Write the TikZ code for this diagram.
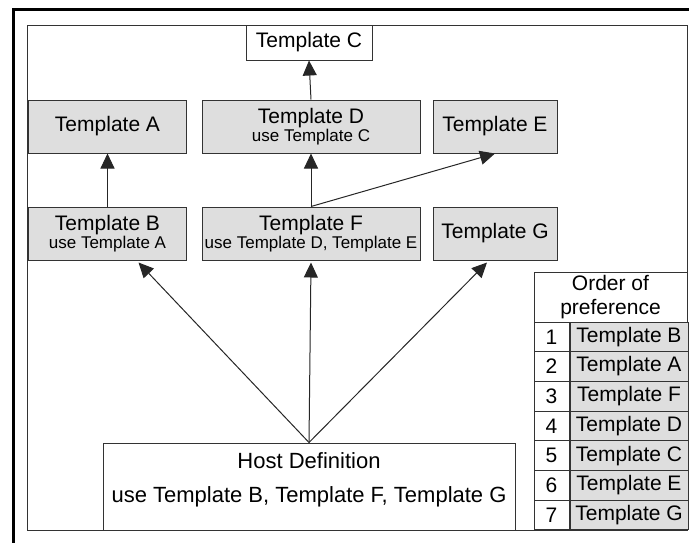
\documentclass[tikz,border=0pt]{standalone}
\usepackage{fontspec}
\setmainfont{Liberation Sans}
\usepackage{tikz}
\usetikzlibrary{arrows.meta}
\usetikzlibrary{positioning}
\tikzset{uses/.style = {-{Triangle[length=15pt, width=14pt]}, line width=1, black!85}}
\tikzset{tpl/.style = {draw=black!80, fill=tgray, line width=1, minimum height=53, inner sep=0, align=center}}
\tikzset{cell/.style = {draw=black!80, line width=1, minimum height=29.71, inner sep=0}}
\definecolor{tgray}{gray}{0.87}
\newcommand{\usenote}[1]{{\fontsize{17}{20}\selectfont #1}}

\begin{document}
\begin{tikzpicture}[x=1pt, y=-1pt, font=\fontsize{21}{25}\selectfont]
      \useasboundingbox (0, 0) rectangle (689, 542);
      \draw [line width=3] (13, 546) -- (13, 9) -- (693, 9);
      \draw [line width=1, black!80] (27, 25) rectangle (687, 530);

      \node [tpl, fill=white, minimum width=126, minimum height=35] (tplC) at (309, 42.5) {Template C};
      \node [tpl, minimum width=158] (tplA) at (107.5, 126.5) {Template A};
      \node [tpl, minimum width=218] (tplD) at (311, 126.5) {Template D\\[-7pt]\usenote{use Template C}};
      \node [tpl, minimum width=124] (tplE) at (495, 126.5) {Template E};
      \node [tpl, minimum width=158] (tplB) at (107.5, 233.5) {Template B\\[-7pt]\usenote{use Template A}};
      \node [tpl, minimum width=218] (tplF) at (311, 233.5) {Template F\\[-7pt]\usenote{use Template D, Template E}};
      \node [tpl, minimum width=124] (tplG) at (495, 233.5) {Template G};

      \node [draw=black!80, line width=1, fill=white, minimum width=412, minimum height=87] (host) at (309, 486.5) {};
      \node [align=center, font=\fontsize{22}{26}\selectfont] (hostlbl) at (309, 480) {Host Definition\\[8pt]use Template B, Template F, Template G};

      \draw [uses] (tplD.north) -- (tplC.south);
      \draw [uses] (tplB.north) -- (tplA.south);
      \draw [uses] (tplF.north) -- (tplD.south);
      \draw [uses] (tplF.north) -- (tplE.south);
      \draw [uses] (host.north) -- ([xshift=31pt, yshift=-2pt]tplB.south);
      \draw [uses] (host.north) -- ([yshift=-2pt]tplF.south);
      \draw [uses] (host.north) -- ([xshift=-8pt, yshift=-2pt]tplG.south);

      % order of preference
      \node [cell, fill=white, minimum width=153, minimum height=50, align=center] (ordhead) at (610.5, 297) {Order of\\[-1pt]preference};
      \foreach \tname [count=\i] in {B, A, F, D, C, E, G} {
        \node [cell, fill=white, minimum width=35] (num\i) at (551.5, 322 + 29.71*\i - 14.86) {\i};
        \node [cell, fill=tgray, minimum width=118, anchor=west] (ord\i) at (num\i.east) {Template \tname};
      }
\end{tikzpicture}
\end{document}
